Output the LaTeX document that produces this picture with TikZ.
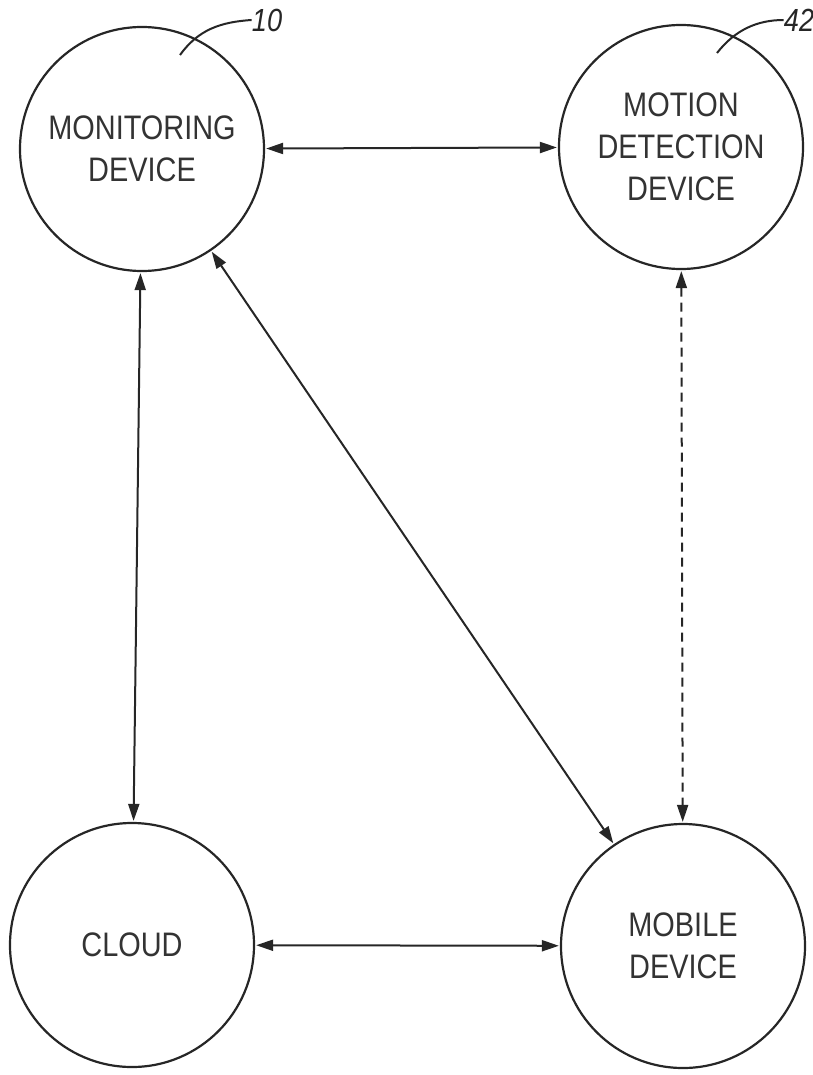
\documentclass[tikz,border=0pt]{standalone}
\usepackage{fontspec}
\newfontfamily\lblfont[FakeStretch=0.85]{Liberation Sans}
\usetikzlibrary{arrows.meta}
\begin{document}
\begin{tikzpicture}[x=1pt,y=-1pt,
  dev/.style={circle,draw=black!85,line width=2.2pt,minimum size=244pt,inner sep=0pt,
    align=center,font=\lblfont\fontsize{34}{42}\selectfont,text=black!80},
  link/.style={draw=black!85,line width=2pt,{Triangle[length=17pt,width=11pt]}-{Triangle[length=17pt,width=11pt]},shorten <=1pt,shorten >=1pt},
  dashlink/.style={link,dash pattern=on 9pt off 6pt},
  leader/.style={draw=black!85,line width=2pt},
  refnum/.style={font=\lblfont\itshape\fontsize{32}{36}\selectfont,inner sep=0pt,text=black!85}]
\useasboundingbox (0,0) rectangle (812,1075);
\node[dev] (mon) at (142,149) {MONITORING\\DEVICE};
\node[dev] (mot) at (681,147) {MOTION\\DETECTION\\DEVICE};
\node[dev] (cloud) at (132,945) {CLOUD};
\node[dev] (mob) at (683,946) {MOBILE\\DEVICE};
\draw[link] (mon) -- (mot);
\draw[link] (cloud) -- (mob);
\draw[link] (mon) -- (cloud);
\draw[link] (mon) -- (mob);
\draw[dashlink] (mot) -- (mob);
\node[refnum] (n10) at (267,20) {10};
\node[refnum] (n42) at (799,20) {42};
\coordinate (l10) at (180,55);
\coordinate (l42) at (717,53);
\draw[leader] (l10) .. controls (198,30) and (220,22) .. (n10.west);
\draw[leader] (l42) .. controls (735,30) and (757,20) .. (n42.west);
\end{tikzpicture}
\end{document}
